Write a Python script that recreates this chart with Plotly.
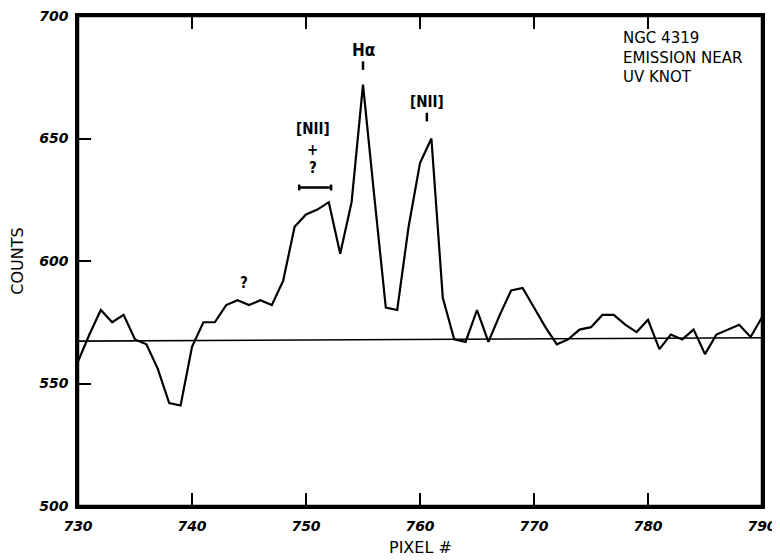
import plotly.graph_objects as go

# ---- data ----
pixels = list(range(730, 791))
counts = [559, 570, 580, 575, 578, 568, 566, 556, 542, 541,
          565, 575, 575, 582, 584, 582, 584, 582, 592, 614,
          619, 621, 624, 603, 624, 672, 626, 581, 580, 614,
          640, 650, 585, 568, 567, 580, 567, 578, 588, 589,
          581, 573, 566, 568, 572, 573, 578, 578, 574, 571,
          576, 564, 570, 568, 572, 562, 570, 572, 574, 569,
          577]
baseline_x = [730, 790]
baseline_y = [567.3, 568.7]

x_ticks = [730, 740, 750, 760, 770, 780, 790]
y_ticks = [500, 550, 600, 650, 700]

# line labels: (text, x, y)
line_labels = [("Hα", 755, 686), ("[NII]", 760.6, 665), ("[NII]", 750.6, 654),
               ("+", 750.6, 645.5), ("?", 750.6, 638), ("?", 744.6, 591)]
label_ticks = [(755, 678, 681.5), (760.6, 657, 660.5)]
blend_bar = (749.4, 752.2, 630)

header_text = "NGC 4319<br>EMISSION NEAR<br>UV KNOT"

fig = go.Figure()
fig.add_trace(go.Scatter(x=baseline_x, y=baseline_y, mode="lines",
                         line=dict(color="black", width=1.6), hoverinfo="skip"))
fig.add_trace(go.Scatter(x=pixels, y=counts, mode="lines",
                         line=dict(color="black", width=2.2), hoverinfo="skip"))

lab_font = dict(family="DejaVu Sans Condensed, DejaVu Sans", size=15, color="black", weight="bold")
for t, x, y in line_labels:
    fs = dict(lab_font)
    if t == "Hα":
        fs["size"] = 17
    fig.add_annotation(x=x, y=y, text=t, showarrow=False, font=fs, xref="x", yref="y")

for x, y0, y1 in label_ticks:
    fig.add_shape(type="line", x0=x, x1=x, y0=y0, y1=y1, xref="x", yref="y",
                  line=dict(color="black", width=2.5))

bx0, bx1, by = blend_bar
fig.add_shape(type="line", x0=bx0, x1=bx1, y0=by, y1=by, xref="x", yref="y",
              line=dict(color="black", width=2.5))
for bx in (bx0, bx1):
    fig.add_shape(type="line", x0=bx, x1=bx, y0=by - 1.2, y1=by + 1.2, xref="x", yref="y",
                  line=dict(color="black", width=2.5))

# plot frame
fig.add_shape(type="rect", xref="paper", yref="paper", x0=0, x1=1, y0=0, y1=1,
              line=dict(color="black", width=2.5), layer="above")

fig.add_annotation(xref="x", yref="y", x=777.6, y=695.5, xanchor="left", yanchor="top",
                   align="left", showarrow=False,
                   font=dict(family="DejaVu Sans", size=15, color="black"), text=header_text)

fig.add_annotation(xref="paper", yref="paper", x=0.5, y=-0.0854, yanchor="middle", showarrow=False,
                   text="PIXEL #", font=dict(family="DejaVu Sans", size=16, color="black"))

tick_font = dict(family="DejaVu Sans", size=14, color="black", weight="bold", style="italic")
fig.update_xaxes(range=[730, 790], tickvals=x_ticks, ticks="inside", ticklen=13, tickwidth=2,
                 tickcolor="black", showline=True, linecolor="black", linewidth=2.5,
                 mirror="ticks", showgrid=False, zeroline=False, tickfont=tick_font,
                 ticklabelstandoff=5, ticklabeloverflow="allow", automargin=False)
fig.update_yaxes(range=[500, 700], tickvals=y_ticks, ticks="inside", ticklen=13, tickwidth=2,
                 tickcolor="black", showline=True, linecolor="black", linewidth=2.5,
                 mirror=True, showgrid=False, zeroline=False, tickfont=tick_font,
                 ticklabelstandoff=4, ticklabeloverflow="allow", automargin=False,
                 title=dict(text="COUNTS", font=dict(family="DejaVu Sans", size=16, color="black"),
                            standoff=14))

fig.update_layout(width=772, height=552, showlegend=False,
                  margin=dict(l=70, r=18, t=8, b=54),
                  plot_bgcolor="white", paper_bgcolor="white")

fig.write_html("out.html")
